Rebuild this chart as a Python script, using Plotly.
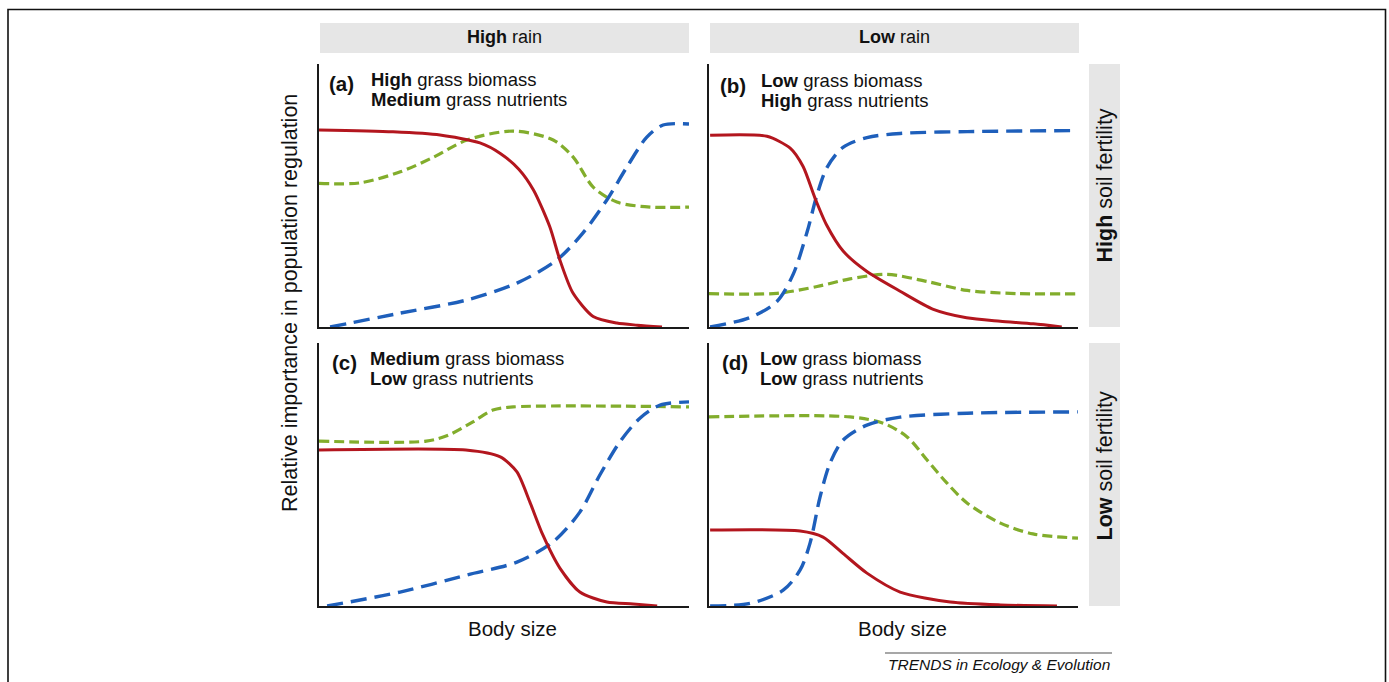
import plotly.graph_objects as go

W, H = 1389, 682

# ---- data: relative importance (0-1) against relative body size (0-1) ----
# series: red = food quantity (solid), green = food quality (short dash), blue = predation (long dash)

# (a) high rain, high soil fertility
a_red_x = [0.0, 0.2, 0.327, 0.435, 0.49, 0.54, 0.58, 0.624, 0.651, 0.686, 0.741, 0.805, 0.86, 0.927]
a_red_y = [0.749, 0.742, 0.73, 0.70, 0.66, 0.60, 0.52, 0.38, 0.255, 0.13, 0.04, 0.015, 0.007, 0.0]
a_green_x = [0.0, 0.11, 0.22, 0.31, 0.40, 0.525, 0.633, 0.687, 0.741, 0.805, 0.895, 1.0]
a_green_y = [0.546, 0.548, 0.59, 0.646, 0.711, 0.745, 0.711, 0.646, 0.532, 0.475, 0.456, 0.456]
a_blue_x = [0.03, 0.22, 0.40, 0.535, 0.643, 0.713, 0.778, 0.832, 0.886, 0.93, 1.0]
a_blue_y = [0.0, 0.053, 0.103, 0.167, 0.255, 0.357, 0.483, 0.608, 0.722, 0.768, 0.772]

# (b) low rain, high soil fertility
b_red_x = [0.003, 0.157, 0.22, 0.255, 0.287, 0.318, 0.364, 0.427, 0.518, 0.608, 0.698, 0.789, 0.879, 0.956]
b_red_y = [0.729, 0.725, 0.68, 0.61, 0.491, 0.39, 0.288, 0.212, 0.136, 0.067, 0.035, 0.022, 0.012, 0.0]
b_green_x = [0.0, 0.184, 0.293, 0.382, 0.482, 0.591, 0.70, 0.835, 1.0]
b_green_y = [0.127, 0.128, 0.154, 0.183, 0.20, 0.173, 0.139, 0.127, 0.126]
b_blue_x = [0.003, 0.111, 0.184, 0.228, 0.266, 0.293, 0.32, 0.363, 0.428, 0.518, 0.70, 1.0]
b_blue_y = [0.0, 0.036, 0.097, 0.20, 0.362, 0.504, 0.607, 0.683, 0.72, 0.736, 0.743, 0.747]

# (c) high rain, low soil fertility
c_red_x = [0.0, 0.397, 0.49, 0.535, 0.57, 0.605, 0.651, 0.705, 0.778, 0.849, 0.914]
c_red_y = [0.593, 0.593, 0.567, 0.51, 0.395, 0.27, 0.144, 0.053, 0.015, 0.008, 0.0]
c_green_x = [0.0, 0.29, 0.35, 0.416, 0.47, 0.525, 1.0]
c_green_y = [0.627, 0.627, 0.65, 0.70, 0.745, 0.757, 0.757]
c_blue_x = [0.022, 0.219, 0.40, 0.535, 0.632, 0.705, 0.759, 0.813, 0.868, 0.922, 1.0]
c_blue_y = [0.0, 0.053, 0.118, 0.167, 0.243, 0.357, 0.498, 0.624, 0.715, 0.764, 0.776]

# (d) low rain, low soil fertility
d_red_x = [0.003, 0.247, 0.309, 0.363, 0.428, 0.518, 0.654, 0.79, 0.943]
d_red_y = [0.289, 0.285, 0.262, 0.20, 0.125, 0.053, 0.015, 0.004, 0.0]
d_green_x = [0.0, 0.382, 0.472, 0.537, 0.591, 0.645, 0.70, 0.79, 0.878, 1.0]
d_green_y = [0.719, 0.719, 0.695, 0.643, 0.555, 0.467, 0.391, 0.315, 0.274, 0.258]
d_blue_x = [0.003, 0.111, 0.201, 0.247, 0.274, 0.301, 0.328, 0.363, 0.428, 0.518, 0.70, 1.0]
d_blue_y = [0.0, 0.01, 0.06, 0.137, 0.24, 0.415, 0.543, 0.63, 0.688, 0.718, 0.733, 0.738]

panel_tags = ["(a)", "(b)", "(c)", "(d)"]
biomass_lines = ["<b>High</b> grass biomass", "<b>Low</b> grass biomass",
                 "<b>Medium</b> grass biomass", "<b>Low</b> grass biomass"]
nutrient_lines = ["<b>Medium</b> grass nutrients", "<b>High</b> grass nutrients",
                  "<b>Low</b> grass nutrients", "<b>Low</b> grass nutrients"]
column_labels = ["<b>High</b> rain", "<b>Low</b> rain"]
row_labels = ["<b>High</b> soil fertility", "<b>Low</b> soil fertility"]
x_title = "Body size"
y_title = "Relative importance in population regulation"
credit = "TRENDS in Ecology & Evolution"

panels = [
    (a_red_x, a_red_y, a_green_x, a_green_y, a_blue_x, a_blue_y),
    (b_red_x, b_red_y, b_green_x, b_green_y, b_blue_x, b_blue_y),
    (c_red_x, c_red_y, c_green_x, c_green_y, c_blue_x, c_blue_y),
    (d_red_x, d_red_y, d_green_x, d_green_y, d_blue_x, d_blue_y),
]

RED, GREEN, BLUE = "#b3161e", "#82ad2c", "#1e5fbb"
FONT = "Liberation Sans, Arial, Helvetica, sans-serif"


def px(x):
    return x / W


def py(y):
    return 1 - y / H


# pixel boxes of the four plotting areas: (left, right, top, bottom)
boxes = [(319, 689, 64, 327), (709, 1078, 64, 327),
         (319, 689, 343, 606), (709, 1078, 343, 606)]

fig = go.Figure()
layout_axes = {}
for i, (box, data) in enumerate(zip(boxes, panels)):
    l, r, t, b = box
    n = "" if i == 0 else str(i + 1)
    layout_axes["xaxis" + n] = dict(
        domain=[px(l), px(r)], range=[0, 1], anchor="y" + n,
        showline=True, linecolor="#1a1a1a", linewidth=1.5,
        showgrid=False, zeroline=False, showticklabels=False, ticks="")
    layout_axes["yaxis" + n] = dict(
        domain=[py(b), py(t)], range=[0, 1], anchor="x" + n,
        showline=True, linecolor="#1a1a1a", linewidth=1.5,
        showgrid=False, zeroline=False, showticklabels=False, ticks="")
    rx, ry, gx, gy, bx, by = data
    xa, ya = "x" + n, "y" + n
    fig.add_trace(go.Scatter(x=gx, y=gy, mode="lines", xaxis=xa, yaxis=ya,
                             line=dict(color=GREEN, width=3.2, dash="10px,5px",
                                       shape="spline", smoothing=0.85),
                             showlegend=False, hoverinfo="skip"))
    fig.add_trace(go.Scatter(x=bx, y=by, mode="lines", xaxis=xa, yaxis=ya,
                             line=dict(color=BLUE, width=3.4, dash="16px,8px",
                                       shape="spline", smoothing=0.85),
                             showlegend=False, hoverinfo="skip"))
    fig.add_trace(go.Scatter(x=rx, y=ry, mode="lines", xaxis=xa, yaxis=ya,
                             line=dict(color=RED, width=3, shape="spline",
                                       smoothing=0.7),
                             showlegend=False, hoverinfo="skip"))

shapes = []
annotations = []

# outer frame
shapes.append(dict(type="rect", xref="paper", yref="paper",
                   x0=px(8), x1=px(1385.5), y0=py(720), y1=py(9.5),
                   line=dict(color="#111", width=1.6), fillcolor="rgba(0,0,0,0)"))

# column strips (rain) and row strips (soil fertility)
for (l, r), lab in zip([(320, 689), (710, 1079)], column_labels):
    shapes.append(dict(type="rect", xref="paper", yref="paper", layer="below",
                       x0=px(l), x1=px(r), y0=py(53), y1=py(23),
                       fillcolor="#e6e6e6", line=dict(width=0)))
    annotations.append(dict(text=lab, x=px((l + r) / 2), y=py(37), xref="paper",
                            yref="paper", showarrow=False, xanchor="center",
                            yanchor="middle", font=dict(size=18, color="#111")))
for (t, b), cy, lab in zip([(64, 327), (343, 606)], (186, 466), row_labels):
    shapes.append(dict(type="rect", xref="paper", yref="paper", layer="below",
                       x0=px(1089), x1=px(1120), y0=py(b), y1=py(t),
                       fillcolor="#e6e6e6", line=dict(width=0)))
    annotations.append(dict(text=lab, x=px(1104.5), y=py(cy), xref="paper",
                            yref="paper", showarrow=False, textangle=-90,
                            xanchor="center", yanchor="middle",
                            font=dict(size=21.5, color="#111")))

# panel tags and condition texts
tag_pos = [(327, 83), (718, 85), (330, 362), (720, 362)]
text_pos = [(369, 79, 100), (759, 80, 101), (368, 358, 379), (758, 358, 379)]
for tag, (tx, ty), (lx, y1, y2), l1, l2 in zip(panel_tags, tag_pos, text_pos,
                                               biomass_lines, nutrient_lines):
    annotations.append(dict(text="<b>" + tag + "</b>", x=px(tx), y=py(ty),
                            xref="paper", yref="paper", showarrow=False,
                            xanchor="left", yanchor="middle",
                            font=dict(size=20.5, color="#111")))
    for txt, yy in ((l1, y1), (l2, y2)):
        annotations.append(dict(text=txt, x=px(lx), y=py(yy), xref="paper",
                                yref="paper", showarrow=False, xanchor="left",
                                yanchor="middle", font=dict(size=18.5, color="#111")))

# axis titles
for cx in (512, 902):
    annotations.append(dict(text=x_title, x=px(cx), y=py(628), xref="paper",
                            yref="paper", showarrow=False, xanchor="center",
                            yanchor="middle", font=dict(size=20.5, color="#111")))
annotations.append(dict(text=y_title, x=px(290), y=py(303), xref="paper",
                        yref="paper", showarrow=False, textangle=-90,
                        xanchor="center", yanchor="middle",
                        font=dict(size=21.5, color="#111")))

# credit line
shapes.append(dict(type="line", xref="paper", yref="paper",
                   x0=px(885), x1=px(1112), y0=py(653), y1=py(653),
                   line=dict(color="#8a8a8a", width=1.3)))
annotations.append(dict(text="<i>" + credit + "</i>", x=px(998.5), y=py(664),
                        xref="paper", yref="paper", showarrow=False,
                        xanchor="center", yanchor="middle",
                        font=dict(size=15.5, color="#111")))

fig.update_layout(
    width=W, height=H, margin=dict(l=0, r=0, t=0, b=0),
    paper_bgcolor="white", plot_bgcolor="white",
    font=dict(family=FONT), showlegend=False,
    shapes=shapes, annotations=annotations, **layout_axes)

fig.write_html("out.html")
